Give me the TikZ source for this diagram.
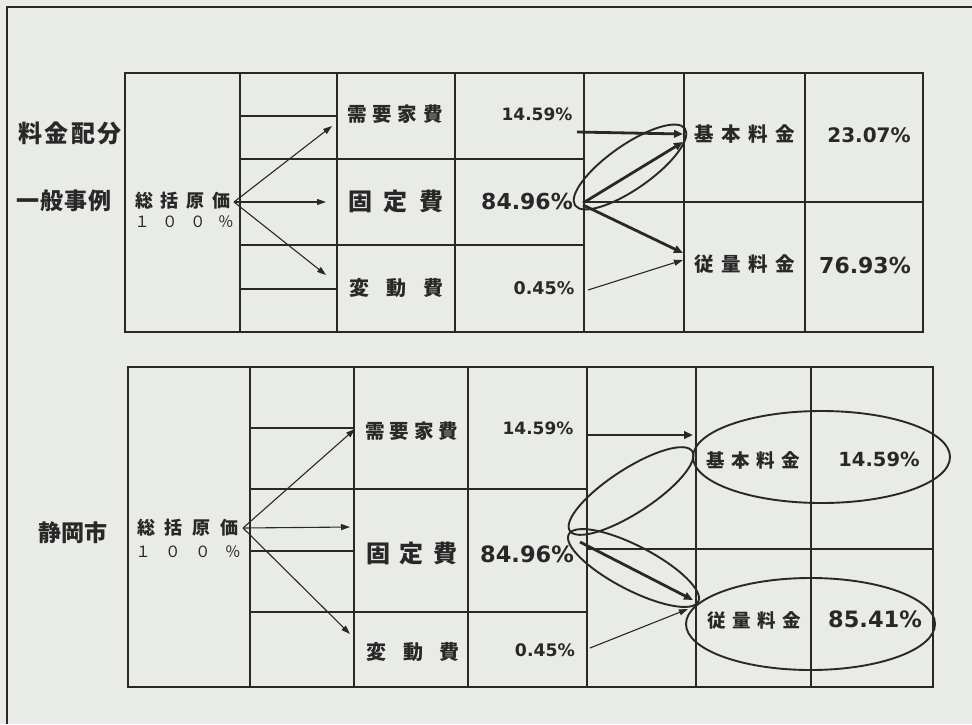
\documentclass[tikz,border=0pt]{standalone}
\usepackage{fontspec}
\setmainfont{DejaVu Sans}
\newfontfamily\jp{Noto Sans CJK JP}
\newfontfamily\num{DejaVu Sans}
\usetikzlibrary{arrows.meta,shapes.geometric}
\definecolor{bgc}{RGB}{233,235,231}
\definecolor{ink}{RGB}{40,40,40}
\newcommand\fsz[1]{\fontsize{#1}{#1}\selectfont}
\begin{document}
\begin{tikzpicture}[x=1pt,y=-1pt,
  gridline/.style={draw=ink,line width=1.3pt},
  jt/.style={font=\jp\bfseries\fsz{#1},text=ink,inner sep=0pt},
  jr/.style={font=\jp\fsz{#1},text=ink,inner sep=0pt},
  nt/.style={font=\num\bfseries\fsz{#1},text=ink,inner sep=0pt},
  thinarr/.style={draw=ink,line width=1.1pt,-{Triangle[length=9pt,width=6pt]}},
  thickarr/.style={draw=ink,line width=2.8pt,-{Triangle[length=9pt,width=7.5pt]}},
  oval/.style={draw=ink,line width=1.9pt,ellipse,inner sep=0pt,outer sep=0pt}
]
\useasboundingbox (0,0) rectangle (972,724);
\fill[bgc] (0,0) rectangle (972,724);
% outer frame
\draw[ink,line width=2pt] (7,724) -- (7,7) -- (972,7);

% ---------- top table ----------
\draw[gridline] (125,73) rectangle (923,332);
\foreach \x in {240,337,455,584,684,805} \draw[gridline] (\x,73) -- (\x,332);
\foreach \y in {116,159,245,289} \draw[gridline] (240,\y) -- (337,\y);
\foreach \y in {159,245} \draw[gridline] (337,\y) -- (584,\y);
\draw[gridline] (584,202) -- (923,202);

\node[jt=24] (t1) at (70,133) {料\kern2.5pt金\kern2.5pt配\kern2.5pt分};
\node[jt=23] (t2) at (64,201) {一\kern1pt般\kern1pt事\kern1pt例};
\node[jt=18] (sk1) at (183,201) {総\kern8pt括\kern8pt原\kern8pt価};
\node[jr=15.5] (h1) at (184,222) {１\kern12.5pt ０\kern12.5pt ０\kern12.5pt ％};
\node[jt=19.5] (j1) at (395,114) {需\kern6pt要\kern6pt家\kern6pt費};
\node[jt=24] (k1) at (396,201) {固\kern11.5pt定\kern11.5pt費};
\node[jt=20] (v1) at (396,288) {変\kern17pt動\kern17pt費};
\node[nt=17] (p1) at (537,114) {14.59\%};
\node[nt=22] (p2) at (527,201) {84.96\%};
\node[nt=17.5] (p3) at (544,288) {0.45\%};
\node[jt=19.5] (r1) at (745,134) {基\kern7.5pt本\kern7.5pt料\kern7.5pt金};
\node[jt=19.5] (r2) at (745,264) {従\kern7.5pt量\kern7.5pt料\kern7.5pt金};
\node[nt=20] (q1) at (869,135) {23.07\%};
\node[nt=22] (q2) at (865,265) {76.93\%};

\coordinate (a0) at (234,202);
\coordinate (a1) at (332,126);
\coordinate (a2) at (326,202);
\coordinate (a3) at (326,275);
\draw[thinarr] (a0) -- (a1);
\draw[thinarr] (a0) -- (a2);
\draw[thinarr] (a0) -- (a3);
\coordinate (b1s) at (577,132); \coordinate (b1e) at (683,134);
\coordinate (b2s) at (583,203); \coordinate (b2e) at (683,142);
\coordinate (b3s) at (583,205); \coordinate (b3e) at (683,253);
\coordinate (b4s) at (588,290); \coordinate (b4e) at (683,260);
\draw[thickarr] (b1s) -- (b1e);
\draw[thickarr] (b2s) -- (b2e);
\draw[thickarr] (b3s) -- (b3e);
\draw[thinarr] (b4s) -- (b4e);
\node[oval,minimum width=134pt,minimum height=44pt,rotate=35] (e1) at (630,167) {};

% ---------- bottom table ----------
\draw[gridline] (128,367) rectangle (933,687);
\foreach \x in {250,354,468,587,696,811} \draw[gridline] (\x,367) -- (\x,687);
\foreach \y in {428,489,551,612} \draw[gridline] (250,\y) -- (354,\y);
\foreach \y in {489,612} \draw[gridline] (354,\y) -- (587,\y);
\draw[gridline] (587,549) -- (933,549);

\node[jt=23] (t3) at (73,533) {静\kern0.5pt岡\kern0.5pt市};
\node[jt=18] (sk2) at (188,528) {総\kern10pt括\kern10pt原\kern10pt価};
\node[jr=15.5] (h2) at (188,552) {１\kern14.5pt ０\kern14.5pt ０\kern14.5pt ％};
\node[jt=19.5] (j2) at (412,431) {需\kern5pt要\kern5pt家\kern5pt費};
\node[jt=24] (k2) at (412,553) {固\kern9.5pt定\kern9.5pt費};
\node[jt=20] (v2) at (413,652) {変\kern16.5pt動\kern16.5pt費};
\node[nt=17] (p4) at (538,428) {14.59\%};
\node[nt=22.5] (p5) at (527,554) {84.96\%};
\node[nt=17.3] (p6) at (545,650) {0.45\%};
\node[jt=18.5] (r3) at (753,460) {基\kern6.5pt本\kern6.5pt料\kern6.5pt金};
\node[jt=18.5] (r4) at (754,620) {従\kern6.5pt量\kern6.5pt料\kern6.5pt金};
\node[nt=19.5] (q3) at (879,459) {14.59\%};
\node[nt=22.5] (q4) at (875,619) {85.41\%};

\coordinate (c0) at (243,528);
\coordinate (c1) at (355,429);
\coordinate (c2) at (350,527);
\coordinate (c3) at (350,634);
\draw[thinarr] (c0) -- (c1);
\draw[thinarr] (c0) -- (c2);
\draw[thinarr] (c0) -- (c3);
\coordinate (d1s) at (586,435); \coordinate (d1e) at (693,435);
\coordinate (d2s) at (580,542); \coordinate (d2e) at (693,600);
\coordinate (d4s) at (590,648); \coordinate (d4e) at (688,609);
\draw[thickarr] (d1s) -- (d1e);
\draw[thickarr] (d2s) -- (d2e);
\draw[thinarr] (d4s) -- (d4e);
\node[oval,minimum width=146pt,minimum height=44pt,rotate=33] (e2) at (631,491) {};
\node[oval,minimum width=146pt,minimum height=44pt,rotate=-27.5] (e3) at (633.5,568) {};
\node[oval,minimum width=257pt,minimum height=92pt] (e4) at (821.5,457) {};
\node[oval,minimum width=249pt,minimum height=92pt] (e5) at (810.5,624) {};
\end{tikzpicture}
\end{document}
